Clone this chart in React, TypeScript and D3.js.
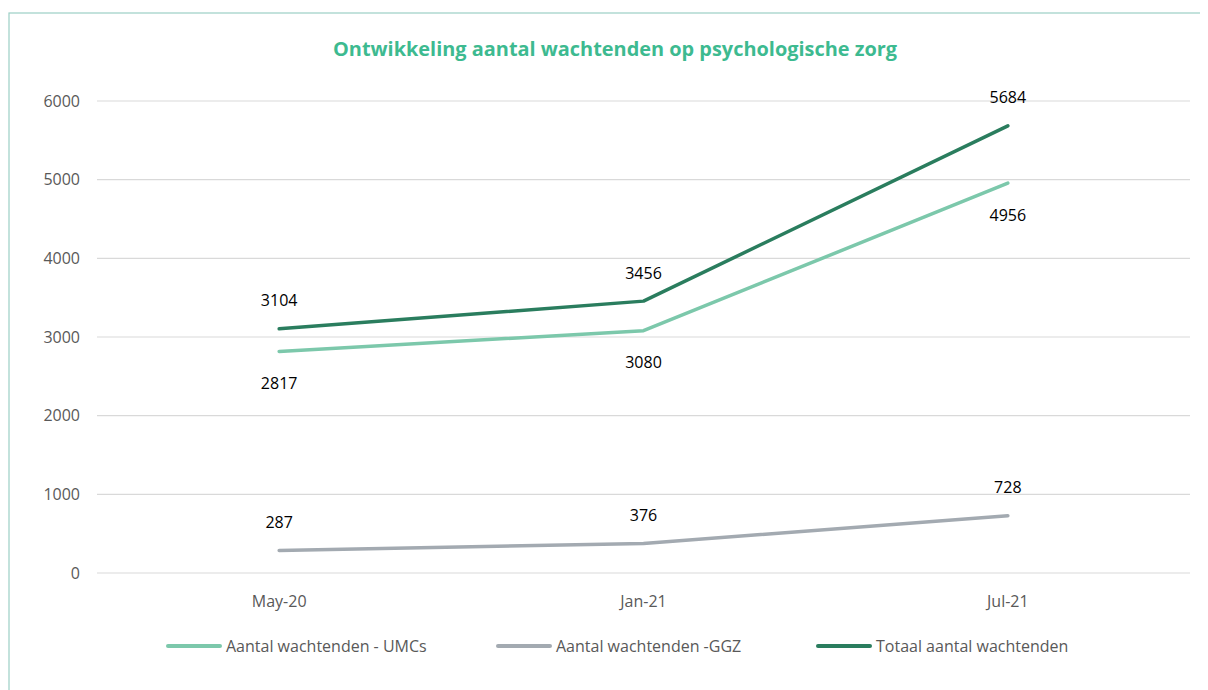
import React from "react";
import * as d3 from "d3";

const categories = ["May-20", "Jan-21", "Jul-21"];
const umcValues = [2817, 3080, 4956];
const ggzValues = [287, 376, 728];
const totalValues = [3104, 3456, 5684];
const yTicks = [0, 1000, 2000, 3000, 4000, 5000, 6000];
const seriesNames = ["Aantal wachtenden - UMCs", "Aantal wachtenden -GGZ", "Totaal aantal wachtenden"];
const titleText = "Ontwikkeling aantal wachtenden op psychologische zorg";

const W = 1192;
const H = 682;
const FONT = "'Open Sans', 'Noto Sans', sans-serif";

export default function App() {
  const left = 89, right = 1182, top = 93, bottom = 565;
  const x = d3.scaleBand<string>().domain(categories).range([left, right]);
  const y = d3.scaleLinear().domain([0, 6000]).range([bottom, top]);
  const cx = (c: string) => (x(c) as number) + x.bandwidth() / 2;
  const line = d3.line<number>().x((_, i) => cx(categories[i])).y((d) => y(d));

  const series = [
    { name: seriesNames[0], values: umcValues, color: "#7cc8ab", labelPos: "below" },
    { name: seriesNames[1], values: ggzValues, color: "#a3aab1", labelPos: "above" },
    { name: seriesNames[2], values: totalValues, color: "#2a7d5e", labelPos: "above" },
  ];

  const legendX = [160, 490, 810];

  return (
    <svg width={W} height={H} style={{ display: "block", overflow: "hidden" }} fontFamily={FONT}>
      <rect x={1} y={5} width={W + 40} height={H + 40} fill="#fff" stroke="#9ccfc5" strokeWidth={1.2} />
      <text x={607} y={48} textAnchor="middle" fontSize={19} fontWeight="bold" fill="#3dba90" textLength={564} lengthAdjust="spacingAndGlyphs">
        {titleText}
      </text>
      {yTicks.map((t) => (
        <g key={t}>
          <line x1={left} x2={right} y1={y(t)} y2={y(t)} stroke="#d9d9d9" strokeWidth={1.2} />
          <text x={72} y={y(t)} dy="0.35em" textAnchor="end" fontSize={16} fill="#595959">
            {t}
          </text>
        </g>
      ))}
      {categories.map((c) => (
        <text key={c} x={cx(c)} y={bottom + 28} dy="0.35em" textAnchor="middle" fontSize={16} fill="#595959">
          {c}
        </text>
      ))}
      {series.map((s) => (
        <path key={s.name} d={line(s.values) as string} fill="none" stroke={s.color} strokeWidth={3.5} strokeLinecap="round" strokeLinejoin="round" />
      ))}
      {series.map((s) =>
        s.values.map((v, i) => (
          <text
            key={s.name + i}
            x={cx(categories[i])}
            y={y(v) + (s.labelPos === "above" ? -28 : 32)}
            dy="0.35em"
            textAnchor="middle"
            fontSize={16}
            fill="#000"
          >
            {v}
          </text>
        ))
      )}
      {series.map((s, i) => (
        <g key={"lg" + i} transform={`translate(${legendX[i]},638)`}>
          <line x1={0} x2={52} y1={0} y2={0} stroke={s.color} strokeWidth={4} strokeLinecap="round" />
          <text x={58} y={0} dy="0.35em" fontSize={16} fill="#595959">
            {s.name}
          </text>
        </g>
      ))}
    </svg>
  );
}
